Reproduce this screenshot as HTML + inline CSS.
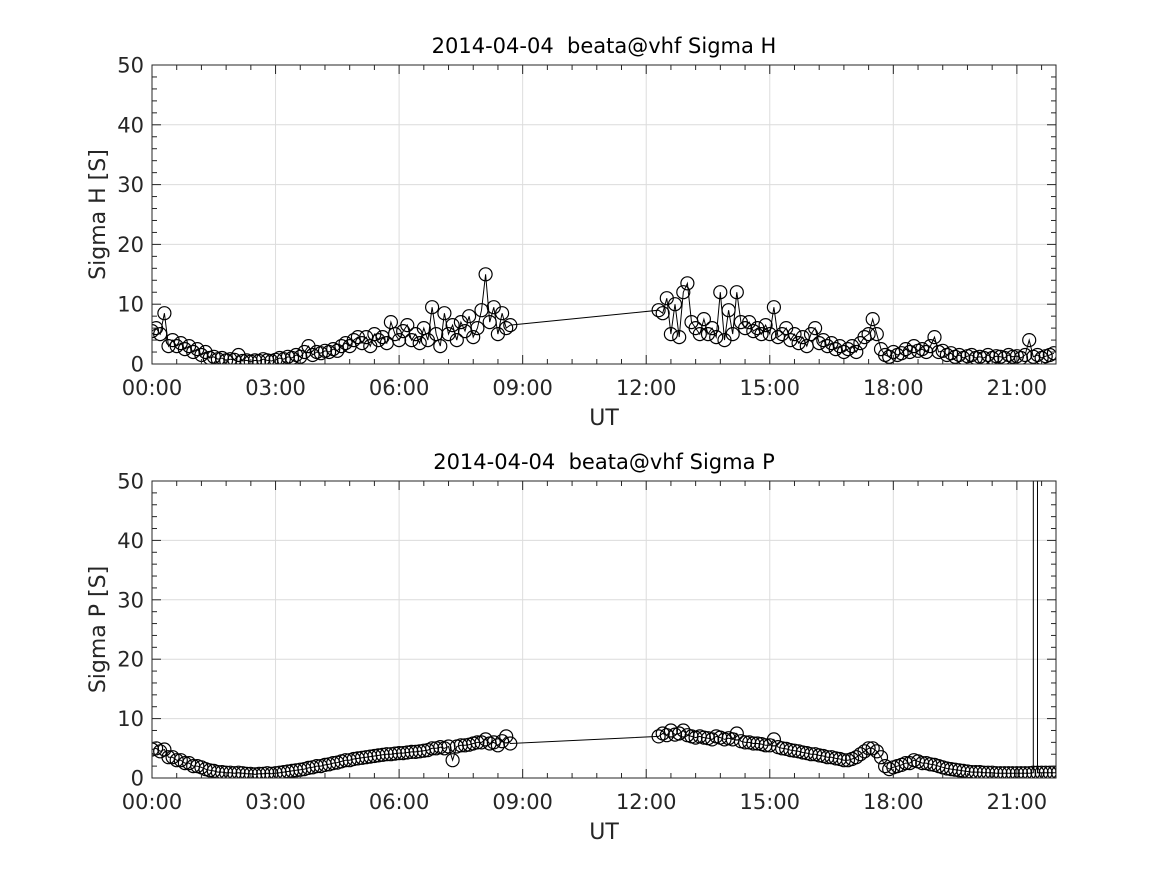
<!DOCTYPE html>
<html><head><meta charset="utf-8">
<style>
html,body{margin:0;padding:0;background:#fff;}
svg{display:block;font-family:"DejaVu Sans","Liberation Sans",sans-serif;}
</style></head>
<body>
<svg id="chart" width="1167" height="875" viewBox="0 0 1167 875" xmlns="http://www.w3.org/2000/svg"></svg>
<script>
// ---- data (hours UT, values in S) ----
const xTickLabels = ["00:00","03:00","06:00","09:00","12:00","15:00","18:00","21:00"];
const xTickHours = [0,3,6,9,12,15,18,21];
const yTickLabels = ["0","10","20","30","40","50"];
const yTickValues = [0,10,20,30,40,50];

const hSeg1Start = 0.0;
const hSeg1 = [5.5,6,5,8.5,3,4,3,3.5,2.5,3,2,2.5,1.5,2,1,1.2,0.8,1,0.6,0.8,0.7,1.5,0.5,0.6,0.4,0.6,0.5,0.8,0.6,0.5,0.7,1,0.8,1.2,1,1.5,1.2,2,3,1.5,2,1.8,2.2,2,2.5,2.2,3,3.5,3,4,4.5,3.5,4.5,3,5,4,4.5,3.5,7,5,4,5.5,6.5,4,5,3.5,6,4,9.5,5,3,8.5,5,6.5,4,7,5.5,8,4.5,6,9,15,7,9.5,5,8.5,6,6.5];
const hSeg2Start = 12.3;
const hSeg2 = [9,8.5,11,5,10,4.5,12,13.5,7,6,5,7.5,5,6,4.5,12,4,9,5,12,7,6,7,5.5,6,5,6.5,5,9.5,4.5,5,6,4,5,3.5,4.5,3,5,6,3.5,4,3,3.5,2.5,3,2,2.5,3,2,3.5,4.5,5,7.5,5,2.5,1.5,1.2,2,1.5,1.8,2.5,2,3,2.2,2.5,2,3,4.5,2,2.2,1.5,1.8,1.2,1.5,1,1.3,1.5,1,1.2,1,1.5,1,1.3,1.2,1,1.5,1.2,1.3,1,1.5,4,1.2,1.5,1,1.3,1.5,1.8];

const pSeg1Start = 0.0;
const pSeg1 = [4.8,5,4.5,4.8,3.5,3.5,3,3,2.5,2.5,2,2,1.8,1.5,1.3,1.2,1,1,0.9,0.9,0.8,0.9,0.8,0.7,0.7,0.6,0.7,0.7,0.8,0.7,0.8,0.9,1,1.1,1.2,1.3,1.4,1.5,1.7,1.8,2,2,2.2,2.3,2.5,2.6,2.8,3,3,3.2,3.3,3.4,3.5,3.6,3.7,3.8,3.9,4,4,4.1,4.2,4.2,4.3,4.4,4.4,4.5,4.6,4.7,5,5,5.2,5,5.3,3,5.3,5.5,5.5,5.6,5.8,6,6,6.5,5.8,6,5.5,6.2,7,5.8];
const pSeg2Start = 12.3;
const pSeg2 = [7,7.5,7.2,8,7.3,7.5,8,7.2,7,6.8,7,6.8,6.7,6.5,7,6.8,6.5,6.7,6.5,7.5,6.2,6,6,5.8,5.8,5.7,5.5,5.5,6.5,5.2,5,4.9,4.7,4.6,4.5,4.3,4.2,4,4,3.8,3.7,3.5,3.5,3.3,3.2,3,3,3.2,3.5,4,4.5,5,5,4.5,3.5,2,1.5,1.8,2,2.2,2.5,2.5,3,2.8,2.5,2.5,2.3,2.2,2,1.8,1.6,1.5,1.4,1.3,1.2,1.1,1,1,1,0.9,0.9,0.9,0.8,0.8,0.8,0.8,0.8,0.8,0.8,0.8,0.8,0.9,0.9,0.9,0.9,0.9,0.9,0.9,1];
const pSpikeTime = [21.46];
const pSpikeValue = [6000];

const NS = "http://www.w3.org/2000/svg";
const svg = document.getElementById("chart");
function mk(tag, attrs, parent){ const e=document.createElementNS(NS,tag); for(const k in attrs) e.setAttribute(k,attrs[k]); (parent||svg).appendChild(e); return e; }

function buildSeries(s1Start,s1,s2Start,s2){
  const pts=[];
  s1.forEach((v,i)=>pts.push([+(s1Start+i*0.1).toFixed(2),v]));
  s2.forEach((v,i)=>pts.push([+(s2Start+i*0.1).toFixed(2),v]));
  return pts;
}

function panel(opt){
  const L=152,R=1056,T=opt.top,B=opt.bottom;
  const xMax=21.95;
  const xs=h=>L+(h/xMax)*(R-L);
  const ys=v=>B-(v/50)*(B-T);
  const g=mk("g",{});
  
  
  const clipId="clip-"+opt.name;
  const cp=mk("clipPath",{id:clipId},g); mk("rect",{x:L,y:T,width:R-L,height:B-T},cp);
  const grid=mk("g",{stroke:"#dcdcdc","stroke-width":1},g);
  
  
  xTickHours.forEach(h=>mk("line",{x1:xs(h),x2:xs(h),y1:T,y2:B},grid));
  yTickValues.forEach(v=>mk("line",{x1:L,x2:R,y1:ys(v),y2:ys(v)},grid));
  const dg=mk("g",{"clip-path":"url(#"+clipId+")"},g);
  
  
  const pts=opt.points;
  let d="";
  pts.forEach((p,i)=>{ const prefix=i?"L":"M"; d+=prefix+xs(p[0]).toFixed(1)+" "+ys(p[1]).toFixed(1); });
  const line=mk("path",{d:d,fill:"none",stroke:"#000","stroke-width":1},dg);
  
  
  pts.forEach(p=>{
    if(p[1]>60) return;
    const c=mk("circle",{cx:xs(p[0]).toFixed(1),cy:ys(p[1]).toFixed(1),r:6.5,fill:"none",stroke:"#000","stroke-width":1.2},dg);
    
    
  });
  const box=mk("rect",{x:L,y:T,width:R-L,height:B-T,fill:"none",stroke:"#262626","stroke-width":1},g);
  
  
  const tk=mk("g",{stroke:"#262626","stroke-width":1},g);
  
  
  for(let h=0;h<=xMax;h+=0.6){ const x=xs(h); const isMaj=Math.abs(h/3-Math.round(h/3))<0.01; const len=isMaj?9:5;
    mk("line",{x1:x,x2:x,y1:B,y2:B-len},tk); mk("line",{x1:x,x2:x,y1:T,y2:T+len},tk); }
  for(let v=0;v<=50;v+=2){ const y=ys(v); const len=(v%10===0)?9:5;
    mk("line",{x1:L,x2:L+len,y1:y,y2:y},tk); mk("line",{x1:R,x2:R-len,y1:y,y2:y},tk); }
  xTickLabels.forEach((lab,i)=>{ const t=mk("text",{x:xs(xTickHours[i]),y:B+31,"text-anchor":"middle","font-size":21,fill:"#262626"},g); t.textContent=lab;
      });
  yTickLabels.forEach((lab,i)=>{ const t=mk("text",{x:L-8,y:ys(yTickValues[i])+7.5,"text-anchor":"end","font-size":21,fill:"#262626"},g); t.textContent=lab;
      });
  const xt=mk("text",{x:(L+R)/2,y:B+61,"text-anchor":"middle","font-size":22,fill:"#262626"},g); xt.textContent="UT";
   
  const yc=(T+B)/2;
  const yt=mk("text",{x:105,y:yc,"text-anchor":"middle","font-size":22,fill:"#262626",transform:"rotate(-90 105 "+yc+")"},g); yt.textContent=opt.ylabel;
   
  const tt=mk("text",{x:(L+R)/2,y:T-12,"text-anchor":"middle","font-size":21,fill:"#000"},g); tt.textContent=opt.title;
   
}

const hPts=buildSeries(hSeg1Start,hSeg1,hSeg2Start,hSeg2);
const pPts=buildSeries(pSeg1Start,pSeg1,pSeg2Start,pSeg2);
pSpikeTime.forEach((t,i)=>{ let idx=pPts.findIndex(p=>p[0]>t); pPts.splice(idx,0,[t,pSpikeValue[i]]); });

panel({name:"sigma-h-panel",top:65,bottom:364,points:hPts,ylabel:"Sigma H [S]",title:"2014-04-04\u00a0 beata@vhf Sigma H"});
panel({name:"sigma-p-panel",top:481,bottom:778,points:pPts,ylabel:"Sigma P [S]",title:"2014-04-04\u00a0 beata@vhf Sigma P"});
</script>
</body></html>
